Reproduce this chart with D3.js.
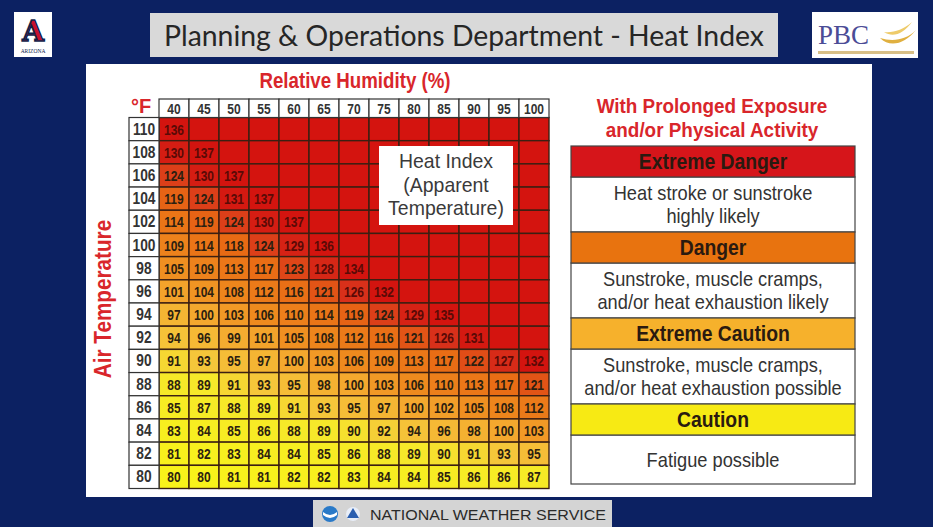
<!DOCTYPE html>
<html><head><meta charset="utf-8">
<script src="https://cdn.jsdelivr.net/npm/d3@7"></script>
<style>html,body{margin:0;padding:0;background:#0c2162;}svg{display:block;}</style>
</head><body><svg id="c" width="933" height="527"></svg>
<script>
// ---- data ----
const humidity = [40,45,50,55,60,65,70,75,80,85,90,95,100];
const temps = [110,108,106,104,102,100,98,96,94,92,90,88,86,84,82,80];
const hi110 = [136];
const hi108 = [130,137];
const hi106 = [124,130,137];
const hi104 = [119,124,131,137];
const hi102 = [114,119,124,130,137];
const hi100 = [109,114,118,124,129,136];
const hi98  = [105,109,113,117,123,128,134];
const hi96  = [101,104,108,112,116,121,126,132];
const hi94  = [97,100,103,106,110,114,119,124,129,135];
const hi92  = [94,96,99,101,105,108,112,116,121,126,131];
const hi90  = [91,93,95,97,100,103,106,109,113,117,122,127,132];
const hi88  = [88,89,91,93,95,98,100,103,106,110,113,117,121];
const hi86  = [85,87,88,89,91,93,95,97,100,102,105,108,112];
const hi84  = [83,84,85,86,88,89,90,92,94,96,98,100,103];
const hi82  = [81,82,83,84,84,85,86,88,89,90,91,93,95];
const hi80  = [80,80,81,81,82,82,83,84,84,85,86,86,87];
const heatRows = [hi110,hi108,hi106,hi104,hi102,hi100,hi98,hi96,hi94,hi92,hi90,hi88,hi86,hi84,hi82,hi80];
const levels = ["Extreme Danger","Danger","Extreme Caution","Caution"];
const levelNotes = [["Heat stroke or sunstroke","highly likely"],["Sunstroke, muscle cramps,","and/or heat exhaustion likely"],["Sunstroke, muscle cramps,","and/or heat exhaustion possible"],["Fatigue possible"]];
const levelColors = ["#d6151a","#e8730f","#f6b12c","#f7ea14"];

// ---- drawing ----
const svg = d3.select("#c");
const NAVY = "#0c2162";
const SANS = "'Liberation Sans',Arial,sans-serif";
svg.append("rect").attr("width",933).attr("height",527).attr("fill",NAVY);

// condensed text helper (horizontal squeeze)
function ctext(parent, x, y, s, size, sx, opts={}){
  const t = parent.append("text").attr("transform",`translate(${x},${y}) scale(${sx},1)`)
    .attr("text-anchor",opts.anchor||"middle").attr("font-family",SANS).attr("font-size",size)
    .attr("fill",opts.fill||"#333").text(s);
  if(opts.bold) t.attr("font-weight","bold");
  return t;
}

// header
svg.append("rect").attr("x",150).attr("y",13).attr("width",628).attr("height",44).attr("fill","#d9d9d9");
svg.append("text").attr("x",464).attr("y",46).attr("text-anchor","middle")
  .attr("font-family","Lato,'Open Sans',sans-serif").attr("font-size",28).attr("fill","#262626")
  .attr("textLength",600).attr("lengthAdjust","spacingAndGlyphs")
  .text("Planning & Operations Department - Heat Index");
// Arizona logo
svg.append("rect").attr("x",14).attr("y",12).attr("width",38).attr("height",45).attr("fill","#ffffff");
svg.append("text").attr("x",33).attr("y",41).attr("text-anchor","middle").attr("font-family","'DejaVu Serif',serif")
  .attr("font-weight","bold").attr("font-size",28).attr("fill","#c8102e").attr("stroke","#0c234b").attr("stroke-width",1.5).text("A");
svg.append("text").attr("x",33).attr("y",53).attr("text-anchor","middle").attr("font-family","serif")
  .attr("font-size",5.5).attr("fill","#0c234b").text("ARIZONA");
// PBC logo
svg.append("rect").attr("x",812).attr("y",12).attr("width",106).attr("height",46).attr("fill","#ffffff");
svg.append("text").attr("x",818).attr("y",44).attr("font-family","'Liberation Serif',serif")
  .attr("font-size",27).attr("fill","#4b4c96").text("PBC");
svg.append("path").attr("d","M880,38 C890,48 905,44 916,30 C906,40 893,42 880,38 Z").attr("fill","#e0b040");
svg.append("path").attr("d","M884,32 C893,38 903,34 912,22 C903,30 893,33 884,32 Z").attr("fill","#eecb6a");
svg.append("rect").attr("x",818).attr("y",51).attr("width",96).attr("height",3).attr("fill","#d8c088");

// main white panel
svg.append("rect").attr("x",86).attr("y",64).attr("width",786).attr("height",433).attr("fill","#ffffff");

// footer
svg.append("rect").attr("x",313).attr("y",500).attr("width",299).attr("height",27).attr("fill","#d4d4d4");
svg.append("circle").attr("cx",330).attr("cy",514).attr("r",8).attr("fill","#2a7ac8");
svg.append("path").attr("d","M323,512 Q330,518 337,512 L337,515 Q330,521 323,515 Z").attr("fill","#ffffff");
svg.append("circle").attr("cx",353).attr("cy",514).attr("r",7).attr("fill","#e8eef8");
svg.append("path").attr("d","M347,518 L353,508 L359,518 Z").attr("fill","#2b5fb0");
svg.append("text").attr("x",488).attr("y",520).attr("text-anchor","middle").attr("font-family",SANS)
  .attr("font-size",15).attr("fill","#2a2a2a").attr("textLength",236).attr("lengthAdjust","spacingAndGlyphs").text("NATIONAL WEATHER SERVICE");

// scales
const x = d3.scaleBand().domain(humidity).range([159,549]);
const y = d3.scaleBand().domain(temps).range([117.5,488.5]);
const color = d3.scaleLinear()
  .domain([80,89,93,100,106,118,126,132])
  .range(["#f8f21a","#f6e82a","#f5c63a","#f4a82e","#ee8a1e","#e86a14","#d8301a","#d3140f"])
  .clamp(true);
const EMPTY = "#d4140f";

const cells = [];
temps.forEach((t,i)=>humidity.forEach((h,j)=>{
  cells.push({t,h,v:heatRows[i][j]});
}));

const g = svg.append("g");
g.selectAll("rect.cell").data(cells).join("rect").attr("class","cell")
  .attr("x",d=>x(d.h)).attr("y",d=>y(d.t)).attr("width",x.bandwidth()).attr("height",y.bandwidth())
  .attr("fill",d=>d.v===undefined?EMPTY:color(d.v))
  .attr("stroke","#3b1f12").attr("stroke-width",1.4);
g.selectAll("text.val").data(cells.filter(d=>d.v!==undefined)).join("text").attr("class","val")
  .attr("transform",d=>`translate(${x(d.h)+x.bandwidth()/2},${y(d.t)+y.bandwidth()/2+5.5}) scale(0.8,1)`)
  .attr("text-anchor","middle").attr("font-family",SANS).attr("font-weight","bold").attr("font-size",15)
  .attr("fill",d=>d.v>=125?"#5a0a06":"#2b2010").text(d=>d.v);

// row labels (temperature)
g.selectAll("rect.rl").data(temps).join("rect").attr("class","rl")
  .attr("x",129).attr("y",d=>y(d)).attr("width",30).attr("height",y.bandwidth())
  .attr("fill","#ffffff").attr("stroke","#333").attr("stroke-width",1.2);
g.selectAll("text.rl").data(temps).join("text").attr("class","rl")
  .attr("transform",d=>`translate(144,${y(d)+y.bandwidth()/2+5.5}) scale(0.86,1)`).attr("text-anchor","middle")
  .attr("font-family",SANS).attr("font-weight","bold").attr("font-size",16).attr("fill","#333").text(d=>d);
// column headers (humidity)
g.selectAll("rect.ch").data(humidity).join("rect").attr("class","ch")
  .attr("x",d=>x(d)).attr("y",99).attr("width",x.bandwidth()).attr("height",18.5)
  .attr("fill","#ffffff").attr("stroke","#333").attr("stroke-width",1.2);
g.selectAll("text.ch").data(humidity).join("text").attr("class","ch")
  .attr("transform",d=>`translate(${x(d)+x.bandwidth()/2},114) scale(0.86,1)`).attr("text-anchor","middle")
  .attr("font-family",SANS).attr("font-weight","bold").attr("font-size",14).attr("fill","#333").text(d=>d);

// titles
ctext(svg,355,88,"Relative Humidity (%)",22,0.85,{bold:true,fill:"#d9262b"});
svg.append("text").attr("x",141).attr("y",113).attr("text-anchor","middle").attr("font-family",SANS)
  .attr("font-weight","bold").attr("font-size",20).attr("fill","#d9262b").text("°F");
svg.append("text").attr("transform","translate(111,299) rotate(-90) scale(0.9,1)").attr("text-anchor","middle").attr("font-family",SANS)
  .attr("font-weight","bold").attr("font-size",23).attr("fill","#d9262b").text("Air Temperature");

// Heat index label
svg.append("rect").attr("x",379).attr("y",146).attr("width",134).attr("height",79).attr("fill","#ffffff");
["Heat Index","(Apparent","Temperature)"].forEach((s,i)=>{
  ctext(svg,446,168+i*23.5,s,20.5,0.95,{fill:"#3a3a3a"});
});

// legend
ctext(svg,712,113,"With Prolonged Exposure",21,0.9,{bold:true,fill:"#d9262b"});
ctext(svg,712,137,"and/or Physical Activity",21,0.9,{bold:true,fill:"#d9262b"});
const headTops = [146,232,318,404];
const noteBottoms = [232,318,404,484];
const lx = 571, lw = 284;
levels.forEach((lv,i)=>{
  const top = headTops[i];
  svg.append("rect").attr("x",lx).attr("y",top+31).attr("width",lw).attr("height",noteBottoms[i]-top-31)
    .attr("fill","#ffffff").attr("stroke","#444").attr("stroke-width",1.2);
  svg.append("rect").attr("x",lx).attr("y",top).attr("width",lw).attr("height",31)
    .attr("fill",levelColors[i]).attr("stroke","#444").attr("stroke-width",1.2);
  ctext(svg,lx+lw/2,top+23,lv,21.5,0.9,{bold:true,fill:"#2a1a10"});
  const notes = levelNotes[i];
  const mid = (top+31+noteBottoms[i])/2;
  notes.forEach((s,k)=>{
    ctext(svg,lx+lw/2,mid+7+(k-(notes.length-1)/2)*23,s,20.5,0.89,{fill:"#333"});
  });
});
</script></body></html>
